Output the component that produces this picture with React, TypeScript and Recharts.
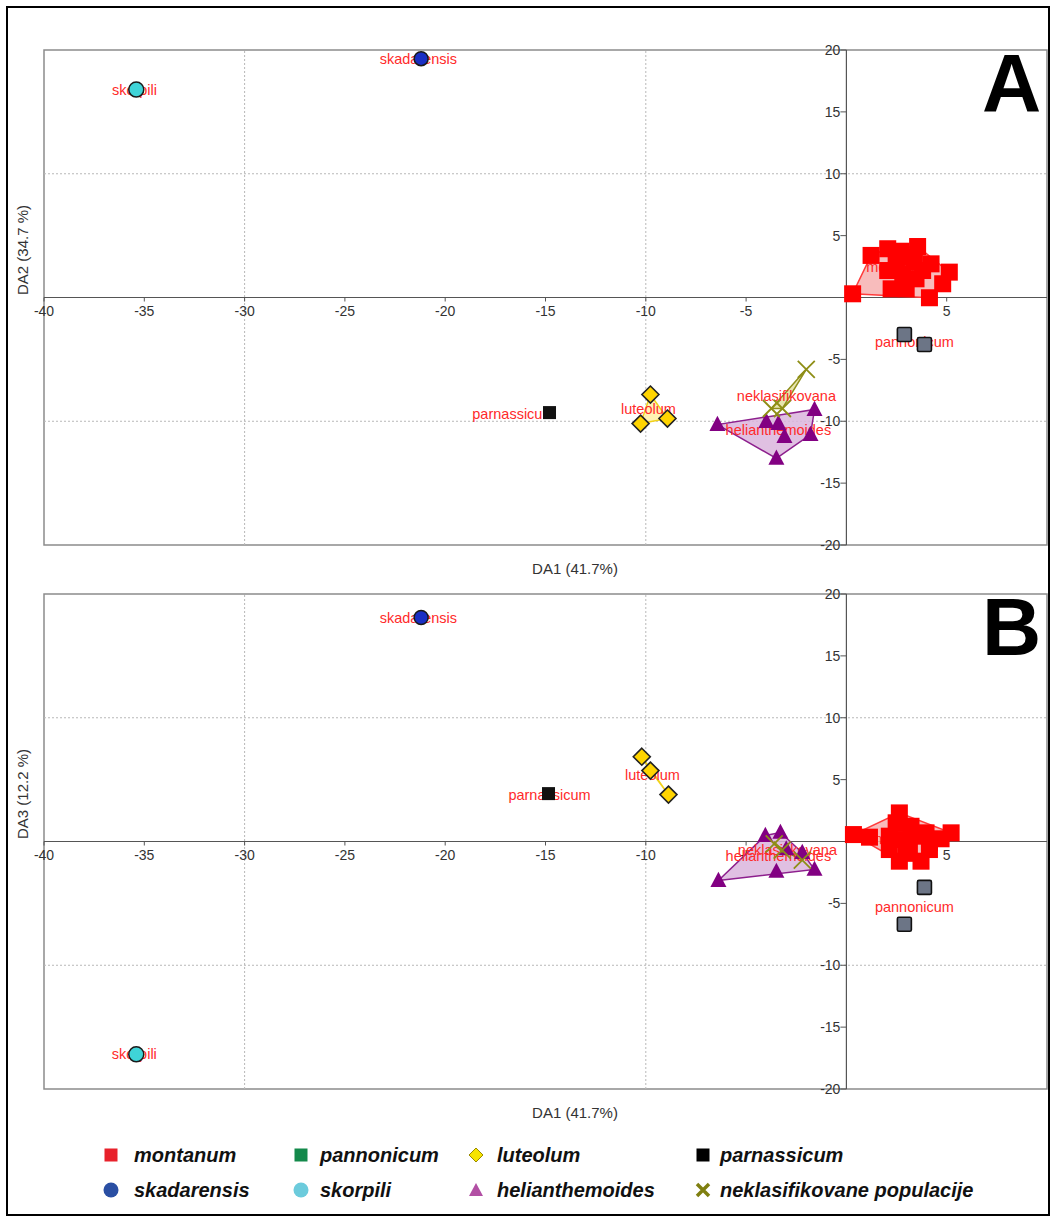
import React from 'react';
import { ScatterChart, Scatter, XAxis, YAxis, ReferenceLine, ReferenceArea } from 'recharts';

type Pt = { x: number; y: number; name?: string };

// tick values on the axes that cross at the origin
const X_TICKS = [-40, -35, -30, -25, -20, -15, -10, -5, 5];
const Y_TICKS = [20, 15, 10, 5, -5, -10, -15, -20];
const GRID_X = [-30, -10];
const GRID_Y = [10, -10];

// panel A: DA1 vs DA2
const montanumA = [
  [0.31, 0.3], [1.23, 3.4], [2.06, 3.94], [2.73, 3.74], [3.55, 4.12], [4.22, 2.72], [5.13, 2.05],
  [4.8, 1.11], [4.14, -0.02], [2.98, 0.7], [2.23, 0.7], [3.39, 2.85], [2.06, 2.18], [2.81, 1.92],
  [3.47, 1.51], [3.8, 2.18], [2.48, 2.99], [3.14, 3.26],
];
const pannonicumA = [[2.89, -2.99], [3.89, -3.8]];
const luteolumA = [[-9.77, -7.84], [-10.26, -10.19], [-8.92, -9.78]];
const parnassicumA = [[-14.8, -9.3]];
const skadarensisA = [[-21.2, 19.3]];
const skorpiliA = [[-35.4, 16.8]];
const helianthemoidesA = [
  [-6.43, -10.27], [-3.99, -10.02], [-3.39, -10.19], [-3.09, -11.24], [-3.49, -13.0], [-1.79, -11.08], [-1.59, -9.05],
];
const neklasifikovaneA = [[-2.0, -5.8], [-3.74, -8.97], [-3.19, -8.97]];

// panel B: DA1 vs DA3
const montanumB = [
  [0.35, 0.56], [1.15, 0.35], [2.64, 2.31], [2.48, 1.51], [3.22, 1.23], [5.22, 0.7], [4.72, 0.22],
  [3.97, 0.7], [2.14, 0.43], [2.14, -0.65], [2.64, -1.59], [3.72, -1.59], [4.14, -0.65], [3.14, -0.38],
  [3.47, 0.43], [2.73, 0.16], [4.14, -0.1], [2.98, -0.91],
];
const pannonicumB = [[3.89, -3.71], [2.89, -6.69]];
const luteolumB = [[-10.2, 6.85], [-9.77, 5.73], [-8.87, 3.79]];
const parnassicumB = [[-14.85, 3.87]];
const skadarensisB = [[-21.2, 18.1]];
const skorpiliB = [[-35.4, -17.2]];
const helianthemoidesB = [
  [-6.38, -3.15], [-4.04, 0.48], [-3.29, 0.73], [-3.49, -2.42], [-1.59, -2.26], [-3.0, -0.6], [-2.2, -0.9],
];
const neklasifikovaneB = [[-3.6, -0.2], [-3.2, -0.7], [-2.2, -1.5]];

// group labels [text, x, y]
const labelsA: [string, number, number][] = [
  ['montanum', 2.7, 2.5], ['pannonicum', 3.39, -3.56], ['luteolum', -9.87, -9.05], ['parnassicum', -16.6, -9.38],
  ['skadarensis', -21.34, 19.24], ['skorpili', -35.49, 16.73], ['helianthemoides', -3.39, -10.67],
  ['neklasifikovana', -2.99, -7.92],
];
const labelsB: [string, number, number][] = [
  ['montanum', 2.9, 0.2], ['pannonicum', 3.39, -5.32], ['luteolum', -9.67, 5.4], ['parnassicum', -14.8, 3.79],
  ['skadarensis', -21.34, 18.06], ['skorpili', -35.5, -17.18], ['helianthemoides', -3.39, -1.21],
  ['neklasifikovana', -2.94, -0.65],
];

const FONT = '"Liberation Sans", Arial, sans-serif';

const toPts = (arr: number[][]): Pt[] => arr.map(([x, y]) => ({ x, y }));

// convex hull (monotone chain) for the group polygons
function hull(arr: number[][]): Pt[] {
  const p = toPts(arr).sort((a, b) => a.x - b.x || a.y - b.y);
  if (p.length < 3) return p;
  const cross = (o: Pt, a: Pt, b: Pt) => (a.x - o.x) * (b.y - o.y) - (a.y - o.y) * (b.x - o.x);
  const lower: Pt[] = [];
  for (const q of p) {
    while (lower.length >= 2 && cross(lower[lower.length - 2], lower[lower.length - 1], q) <= 0) lower.pop();
    lower.push(q);
  }
  const upper: Pt[] = [];
  for (const q of [...p].reverse()) {
    while (upper.length >= 2 && cross(upper[upper.length - 2], upper[upper.length - 1], q) <= 0) upper.pop();
    upper.push(q);
  }
  return lower.slice(0, -1).concat(upper.slice(0, -1));
}

const polygonLine = (fill: string, stroke: string) => (lp: any) => {
  const pts = (lp.points || []) as { x: number; y: number }[];
  if (!pts.length) return <g />;
  const d = pts.map((q, i) => `${i ? 'L' : 'M'}${q.x},${q.y}`).join(' ') + ' Z';
  return <path d={d} fill={fill} fillOpacity={0.85} stroke={stroke} strokeWidth={1.5} />;
};

const none = () => <g />;

// marker shapes
const square = (size: number, fill: string, stroke?: string) => (p: any) => (
  <rect x={p.cx - size / 2} y={p.cy - size / 2} width={size} height={size} fill={fill}
    stroke={stroke || 'none'} strokeWidth={stroke ? 1.6 : 0} rx={stroke ? 1.5 : 0} />
);
const circle = (r: number, fill: string) => (p: any) => (
  <circle cx={p.cx} cy={p.cy} r={r} fill={fill} stroke="#1a1a1a" strokeWidth={1.5} />
);
const diamond = (h: number, fill: string) => (p: any) => (
  <path d={`M${p.cx},${p.cy - h} L${p.cx + h},${p.cy} L${p.cx},${p.cy + h} L${p.cx - h},${p.cy} Z`}
    fill={fill} stroke="#222" strokeWidth={1.6} />
);
const triangle = (w: number, fill: string) => (p: any) => (
  <path d={`M${p.cx},${p.cy - w * 0.55} L${p.cx + w / 2},${p.cy + w * 0.4} L${p.cx - w / 2},${p.cy + w * 0.4} Z`} fill={fill} />
);
const cross = (s: number, color: string) => (p: any) => (
  <path d={`M${p.cx - s},${p.cy - s} L${p.cx + s},${p.cy + s} M${p.cx - s},${p.cy + s} L${p.cx + s},${p.cy - s}`}
    stroke={color} strokeWidth={1.8} fill="none" />
);

const XTick = (p: any) => (
  <g>
    <line x1={p.cx} x2={p.cx} y1={p.cy} y2={p.cy + 4} stroke="#555" />
    <text x={p.cx} y={p.cy + 18} textAnchor="middle" fontSize={14} fill="#333" fontFamily={FONT}>{p.payload.x}</text>
  </g>
);
const YTick = (p: any) => (
  <g>
    <line x1={p.cx - 6} x2={p.cx} y1={p.cy} y2={p.cy} stroke="#555" />
    <text x={p.cx - 6} y={p.cy + 5} textAnchor="end" fontSize={14} fill="#333" fontFamily={FONT}>{p.payload.y}</text>
  </g>
);
const GroupLabel = (p: any) => (
  <text x={p.cx} y={p.cy + 5} textAnchor="middle" fontSize={14.5} fill="#ff2a2a" fontFamily={FONT}>{p.payload.name}</text>
);

type PanelData = {
  montanum: number[][]; pannonicum: number[][]; luteolum: number[][]; parnassicum: number[][];
  skadarensis: number[][]; skorpili: number[][]; helianthemoides: number[][]; neklasifikovane: number[][];
  labels: [string, number, number][];
};

const xTickPts = X_TICKS.map((x) => ({ x, y: 0 }));
const yTickPts = Y_TICKS.map((y) => ({ x: 0, y }));

function Panel({ top, d, yTitle, letter }: { top: number; d: PanelData; yTitle: string; letter: string }) {
  const labelPts = d.labels.map(([name, x, y]) => ({ x, y, name }));
  return (
    <div style={{ position: 'absolute', left: 0, top, width: 1052, height: 600 }}>
      <ScatterChart width={1052} height={600} margin={{ top: 50, right: 5, bottom: 55, left: 44 }}>
        <XAxis type="number" dataKey="x" domain={[-40, 10]} hide />
        <YAxis type="number" dataKey="y" domain={[-20, 20]} hide />
        <ReferenceArea x1={-40} x2={10} y1={-20} y2={20} fill="#fff" fillOpacity={0} stroke="#8c8c8c" strokeWidth={1.5} />
        {GRID_X.map((v) => <ReferenceLine key={'gx' + v} x={v} stroke="#b8b8b8" strokeDasharray="2 2" />)}
        {GRID_Y.map((v) => <ReferenceLine key={'gy' + v} y={v} stroke="#b8b8b8" strokeDasharray="2 2" />)}
        <ReferenceLine x={0} stroke="#555" strokeWidth={1.2} />
        <ReferenceLine y={0} stroke="#555" strokeWidth={1.2} />
        <Scatter data={xTickPts} shape={XTick} isAnimationActive={false} />
        <Scatter data={yTickPts} shape={YTick} isAnimationActive={false} />

        <Scatter data={hull(d.montanum)} shape={none} line={polygonLine('#f7b0b0', '#ff3a3a')} isAnimationActive={false} />
        <Scatter data={hull(d.luteolum)} shape={none} line={polygonLine('#fff1a6', '#f2d21a')} isAnimationActive={false} />
        <Scatter data={hull(d.helianthemoides)} shape={none} line={polygonLine('#dab5dd', '#8d1f8d')} isAnimationActive={false} />
        <Scatter data={hull(d.neklasifikovane)} shape={none} line={polygonLine('#e3e0a0', '#8f8f1c')} isAnimationActive={false} />

        <Scatter data={labelPts} shape={GroupLabel} isAnimationActive={false} />

        <Scatter data={toPts(d.montanum)} shape={square(17, '#ff0000')} isAnimationActive={false} />
        <Scatter data={toPts(d.pannonicum)} shape={square(14, '#6c7586', '#111')} isAnimationActive={false} />
        <Scatter data={toPts(d.parnassicum)} shape={square(13, '#111')} isAnimationActive={false} />
        <Scatter data={toPts(d.luteolum)} shape={diamond(8.5, '#ffd400')} isAnimationActive={false} />
        <Scatter data={toPts(d.skadarensis)} shape={circle(7, '#1a2fc4')} isAnimationActive={false} />
        <Scatter data={toPts(d.skorpili)} shape={circle(7.5, '#3fd4d8')} isAnimationActive={false} />
        <Scatter data={toPts(d.helianthemoides)} shape={triangle(16, '#820082')} isAnimationActive={false} />
        <Scatter data={toPts(d.neklasifikovane)} shape={cross(8.5, '#8e8e16')} isAnimationActive={false} />
      </ScatterChart>
      <div style={{ position: 'absolute', left: 0, width: 1150, top: 560, textAlign: 'center', fontFamily: FONT, fontSize: 15, color: '#333' }}>
        DA1 (41.7%)
      </div>
      <div style={{
        position: 'absolute', left: 22, top: 250, width: 0, height: 0, fontFamily: FONT, fontSize: 15, color: '#333',
      }}>
        <div style={{ position: 'absolute', transform: 'translate(-50%, -50%) rotate(-90deg)', whiteSpace: 'nowrap', left: 0, top: 0 }}>
          {yTitle}
        </div>
      </div>
      <div style={{ position: 'absolute', left: 982, top: 42, fontFamily: FONT, fontSize: 82, fontWeight: 'bold', color: '#000', lineHeight: 1 }}>
        {letter}
      </div>
    </div>
  );
}

const legendItems: { name: string; kind: string; color: string }[] = [
  { name: 'montanum', kind: 'square', color: '#e8212b' },
  { name: 'pannonicum', kind: 'square', color: '#13894b' },
  { name: 'luteolum', kind: 'diamond', color: '#f6e400' },
  { name: 'parnassicum', kind: 'square', color: '#000' },
  { name: 'skadarensis', kind: 'circle', color: '#2a4fa3' },
  { name: 'skorpili', kind: 'circle', color: '#6ccbdc' },
  { name: 'helianthemoides', kind: 'triangle', color: '#b24fa4' },
  { name: 'neklasifikovane populacije', kind: 'cross', color: '#7f7f10' },
];
const legendMarkX = [111, 301, 476, 703];
const legendTextX = [134, 320, 497, 720];

function LegendMark({ kind, color }: { kind: string; color: string }) {
  return (
    <svg width={18} height={18} style={{ position: 'absolute', left: -9, top: -9 }}>
      {kind === 'square' && <rect x={2.5} y={2.5} width={13} height={13} fill={color} />}
      {kind === 'circle' && <circle cx={9} cy={9} r={7.5} fill={color} />}
      {kind === 'diamond' && <path d="M9,2 L16,9 L9,16 L2,9 Z" fill={color} stroke="#9a8a00" strokeWidth={1} />}
      {kind === 'triangle' && <path d="M9,2 L16,15 L2,15 Z" fill={color} />}
      {kind === 'cross' && <path d="M3,3 L15,15 M3,15 L15,3" stroke={color} strokeWidth={3.5} />}
    </svg>
  );
}

export default function App() {
  const A: PanelData = {
    montanum: montanumA, pannonicum: pannonicumA, luteolum: luteolumA, parnassicum: parnassicumA,
    skadarensis: skadarensisA, skorpili: skorpiliA, helianthemoides: helianthemoidesA, neklasifikovane: neklasifikovaneA,
    labels: labelsA,
  };
  const B: PanelData = {
    montanum: montanumB, pannonicum: pannonicumB, luteolum: luteolumB, parnassicum: parnassicumB,
    skadarensis: skadarensisB, skorpili: skorpiliB, helianthemoides: helianthemoidesB, neklasifikovane: neklasifikovaneB,
    labels: labelsB,
  };
  return (
    <div style={{ position: 'absolute', left: 0, top: 0, width: 1052, height: 1224, background: '#fff', overflow: 'hidden' }}>
      <div style={{ position: 'absolute', left: 6, top: 6, width: 1044, height: 1210, border: '2px solid #000', boxSizing: 'border-box' }} />
      <Panel top={0} d={A} yTitle="DA2  (34.7 %)" letter="A" />
      <Panel top={544} d={B} yTitle="DA3  (12.2 %)" letter="B" />
      {legendItems.map((it, i) => {
        const row = Math.floor(i / 4);
        const cy = row === 0 ? 1155 : 1190;
        return (
          <React.Fragment key={it.name}>
            <div style={{ position: 'absolute', left: legendMarkX[i % 4], top: cy }}>
              <LegendMark kind={it.kind} color={it.color} />
            </div>
            <div style={{
              position: 'absolute', left: legendTextX[i % 4], top: cy - 12, whiteSpace: 'nowrap', fontFamily: FONT, fontSize: 20,
              fontWeight: 'bold', fontStyle: 'italic', color: '#111', lineHeight: '24px',
            }}>
              {it.name}
            </div>
          </React.Fragment>
        );
      })}
    </div>
  );
}
